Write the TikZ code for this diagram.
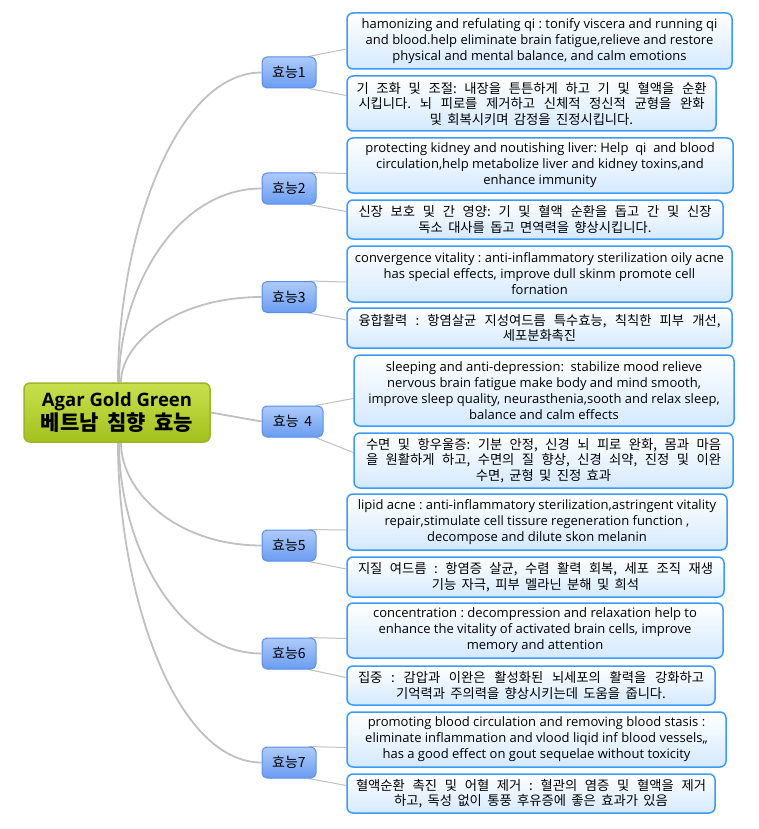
\documentclass[tikz,border=0pt]{standalone}
\usepackage{fontspec}
\setmainfont{Open Sans}
\newfontfamily\kr[WordSpace=1.8]{Noto Sans CJK KR}
\usetikzlibrary{shadings,backgrounds}
\definecolor{leafborder}{HTML}{3D9BF6}
\definecolor{leafbottom}{HTML}{D4E9FF}
\definecolor{branchborder}{HTML}{5A8EEA}
\definecolor{branchtop}{HTML}{AECBFB}
\definecolor{branchbottom}{HTML}{6A9CF1}
\definecolor{rootborder}{HTML}{9BB628}
\definecolor{roottop}{HTML}{C8E04C}
\definecolor{rootbottom}{HTML}{A2C11E}
\definecolor{linegray}{HTML}{C0C0C0}
\frenchspacing
\newcommand{\jline}[2]{\makebox[#1pt][s]{#2}}
\tikzset{
  leaf/.style={draw=leafborder, line width=1.5pt, rounded corners=6pt,
    top color=white, bottom color=leafbottom, align=center, inner sep=0pt,
    font=\fontsize{13}{16}\selectfont},
  leafkr/.style={leaf, font=\kr\fontsize{13.3}{15.5}\selectfont},
  branch/.style={draw=branchborder, line width=1pt, rounded corners=5pt,
    top color=branchtop, bottom color=branchbottom, inner sep=0pt,
    minimum width=54pt, minimum height=31pt, font=\kr\fontsize{14}{16}\selectfont},
  rootbox/.style={draw=rootborder, line width=1.5pt, rounded corners=6pt,
    top color=roottop, bottom color=rootbottom, align=center, inner sep=0pt,
    font=\fontsize{18.5}{22}\selectfont\bfseries},
  trunk/.style={draw=linegray, line width=1.8pt},
  twig/.style={draw=linegray, line width=1pt},
}
\begin{document}
\begin{tikzpicture}[x=1pt,y=-1pt]
\useasboundingbox (0,0) rectangle (758,829);

% root
\node[rootbox, minimum width=186pt, minimum height=59pt] (root) at (117,412.5)
  {Agar Gold Green\\{\kr\fontsize{21}{22}\selectfont 베트남 침향 효능}};

% branches
\node[branch] (b1) at (289,72.5) {효능1};
\node[branch] (b2) at (289,188.5) {효능2};
\node[branch] (b3) at (289,297) {효능3};
\node[branch, minimum width=61pt] (b4) at (292.5,421.5) {효능 4};
\node[branch] (b5) at (289,545.5) {효능5};
\node[branch] (b6) at (289,653.5) {효능6};
\node[branch] (b7) at (289,762.5) {효능7};

% leaves
\node[leaf, minimum width=385pt, minimum height=56pt] (l1a) at (539.5,41)
  {hamonizing and refulating qi : tonify viscera and running qi\\and blood.help eliminate brain fatigue,relieve and restore\\physical and mental balance, and calm emotions};
\node[leafkr, minimum width=369pt, minimum height=55pt] (l1b) at (531.5,103.5)
  {\jline{350}{기 조화 및 조절: 내장을 튼튼하게 하고 기 및 혈액을 순환}\\\jline{346}{시킵니다. 뇌 피로를 제거하고 신체적 정신적 균형을 완화}\\및 회복시키며 감정을 진정시킵니다.};
\node[leaf, minimum width=386pt, minimum height=55pt] (l2a) at (540,165.5)
  {protecting kidney and noutishing liver: Help~~qi~~and blood\\circulation,help metabolize liver and kidney toxins,and\\enhance immunity};
\node[leafkr, minimum width=376pt, minimum height=39pt] (l2b) at (535,219.5)
  {\jline{353}{신장 보호 및 간 영양: 기 및 혈액 순환을 돕고 간 및 신장}\\독소 대사를 돕고 면역력을 향상시킵니다.};
\node[leaf, minimum width=385pt, minimum height=56pt] (l3a) at (539.5,274)
  {convergence vitality : anti-inflammatory sterilization oily acne\\has special effects, improve dull skinm promote cell\\fornation};
\node[leafkr, minimum width=385pt, minimum height=40pt] (l3b) at (539.5,328)
  {\jline{362}{융합활력 : 항염살균 지성여드름 특수효능, 칙칙한 피부 개선,}\\세포분화촉진};
\node[leaf, minimum width=380pt, minimum height=71pt] (l4a) at (544,390.5)
  {sleeping and anti-depression:~~stabilize mood relieve\\nervous brain fatigue make body and mind smooth,\\improve sleep quality, neurasthenia,sooth and relax sleep,\\balance and calm effects};
\node[leafkr, minimum width=379pt, minimum height=55pt] (l4b) at (543.5,460.5)
  {\jline{355}{수면 및 항우울증: 기분 안정, 신경 뇌 피로 완화, 몸과 마음}\\\jline{355}{을 원활하게 하고, 수면의 질 향상, 신경 쇠약, 진정 및 이완}\\수면, 균형 및 진정 효과};
\node[leaf, minimum width=380pt, minimum height=56pt] (l5a) at (537,522)
  {lipid acne : anti-inflammatory sterilization,astringent vitality\\repair,stimulate cell tissure regeneration function ,\\decompose and dilute skon melanin};
\node[leafkr, minimum width=377pt, minimum height=40pt] (l5b) at (535.5,577)
  {\jline{355}{지질 여드름 : 항염증 살균, 수렴 활력 회복, 세포 조직 재생}\\기능 자극, 피부 멜라닌 분해 및 희석};
\node[leaf, minimum width=376pt, minimum height=55pt] (l6a) at (535,630.5)
  {concentration : decompression and relaxation help to\\enhance the vitality of activated brain cells, improve\\memory and attention};
\node[leafkr, minimum width=368pt, minimum height=39pt] (l6b) at (531,685.5)
  {\jline{346}{집중 : 감압과 이완은 활성화된 뇌세포의 활력을 강화하고}\\기억력과 주의력을 향상시키는데 도움을 줍니다.};
\node[leaf, minimum width=379pt, minimum height=55pt] (l7a) at (536.5,739.5)
  {promoting blood circulation and removing blood stasis :\\eliminate inflammation and vlood liqid inf blood vessels,,\\has a good effect on gout sequelae without toxicity};
\node[leafkr, minimum width=368pt, minimum height=39pt] (l7b) at (531,793.5)
  {\jline{350}{혈액순환 촉진 및 어혈 제거 : 혈관의 염증 및 혈액을 제거}\\하고, 독성 없이 통풍 후유증에 좋은 효과가 있음};

\begin{scope}[on background layer]
\fill[white] (0,0) rectangle (758,829);
% trunks
\draw[trunk] ([xshift=1pt]root.north) .. controls +(0,-146) and +(-86,0) .. (b1.west);
\draw[trunk] ([xshift=2pt]root.north) .. controls +(0,-92) and +(-86,0) .. (b2.west);
\draw[trunk] ([xshift=4pt]root.north) .. controls +(0,-40) and +(-85,0) .. (b3.west);
\draw[trunk] (root.east) -- (b4.west);
\draw[trunk] ([xshift=4pt]root.south) .. controls +(0,49) and +(-85,0) .. (b5.west);
\draw[trunk] ([xshift=2pt]root.south) .. controls +(0,100) and +(-86,0) .. (b6.west);
\draw[trunk] ([xshift=1pt]root.south) .. controls +(0,151) and +(-86,0) .. (b7.west);
% twigs
\foreach \b/\la/\lb in {b1/l1a/l1b, b2/l2a/l2b, b3/l3a/l3b, b4/l4a/l4b, b5/l5a/l5b, b6/l6a/l6b, b7/l7a/l7b}{
  \draw[twig] ([xshift=-8pt]\b.north east) -- ([yshift=-8pt]\la.west);
  \draw[twig] ([xshift=-8pt]\b.south east) -- ([yshift=8pt]\lb.west);
}
\end{scope}
\end{tikzpicture}
\end{document}
